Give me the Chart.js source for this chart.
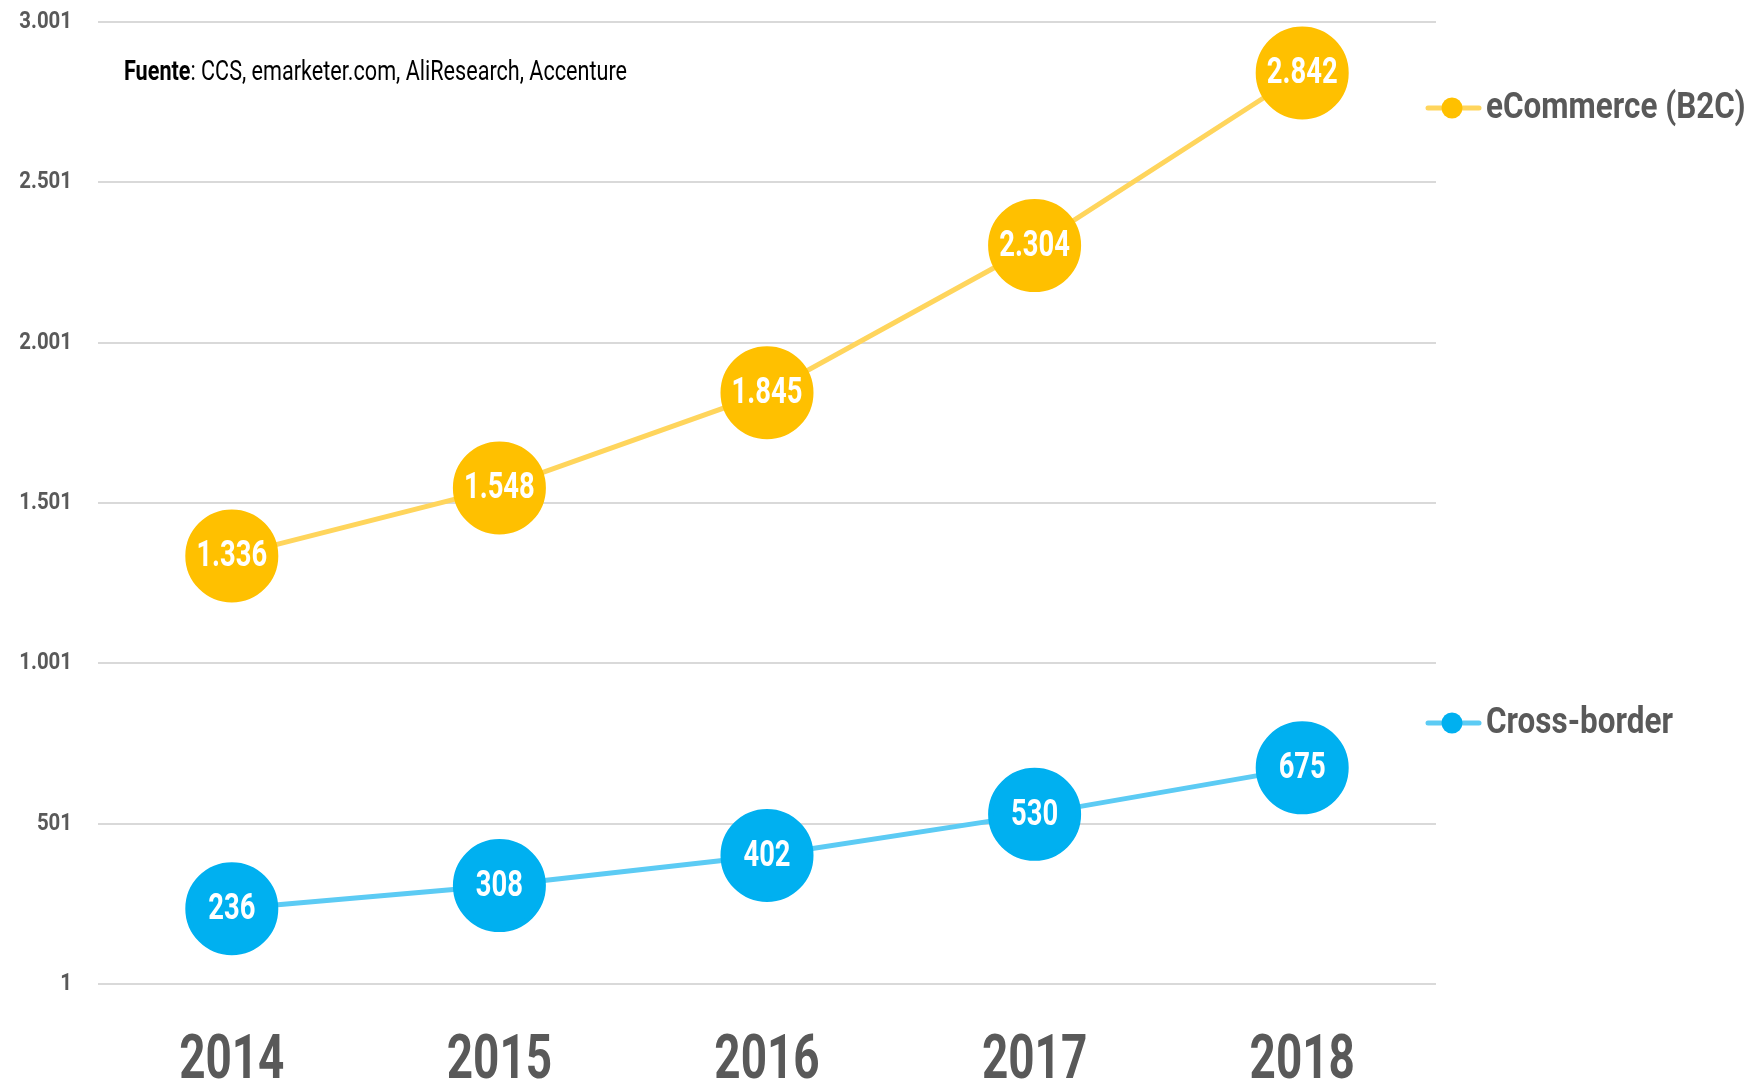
<!DOCTYPE html>
<html lang="es">
<head>
  <meta charset="UTF-8" />
  <title>eCommerce vs Cross-border</title>
  <script src="https://cdn.jsdelivr.net/npm/chart.js"></script>
  <style>
    html, body { margin: 0; padding: 0; background: #fff; }
    #wrap { width: 1755px; height: 1085px; }
  </style>
</head>
<body>
  <div id="wrap"><canvas id="chart" width="1755" height="1085"></canvas></div>

  <script>
    const years = ['2014', '2015', '2016', '2017', '2018'];
    const ecommerce = [1336, 1548, 1845, 2304, 2842];
    const crossBorder = [236, 308, 402, 530, 675];
    const yTicks = [1, 501, 1001, 1501, 2001, 2501, 3001];
    const seriesNames = ['eCommerce (B2C)', 'Cross-border'];
    const sourceLabel = 'Fuente';
    const sourceText = ': CCS, emarketer.com, AliResearch, Accenture';

    const FONT = "Roboto, 'DejaVu Sans', sans-serif";
    const GREY = '#595959';
    const fmt = v => v.toLocaleString('de-DE');

    // the original uses a narrow display face, so squeeze the text sideways
    function narrowText(ctx, text, x, y, align, sx) {
      ctx.save();
      ctx.translate(x, y);
      ctx.scale(sx, 1);
      ctx.textAlign = align;
      ctx.textBaseline = 'middle';
      ctx.fillText(text, 0, 0);
      ctx.restore();
    }

    // white numbers inside the big dots
    const valueLabels = {
      id: 'valueLabels',
      afterDatasetsDraw(chart) {
        const ctx = chart.ctx;
        ctx.save();
        ctx.fillStyle = '#fff';
        ctx.font = 'bold 37px ' + FONT;
        chart.data.datasets.forEach((ds, i) => {
          chart.getDatasetMeta(i).data.forEach((pt, j) => {
            narrowText(ctx, fmt(ds.data[j]), pt.x, pt.y + 1, 'center', 0.74);
          });
        });
        ctx.restore();
      }
    };

    // axis labels, source note and the legend on the right
    const extras = {
      id: 'extras',
      afterDraw(chart) {
        const ctx = chart.ctx;
        const xs = chart.scales.x, ys = chart.scales.y;
        ctx.save();

        ctx.fillStyle = GREY;
        ctx.font = 'bold 24px ' + FONT;
        ys.ticks.forEach(t => {
          narrowText(ctx, fmt(t.value), 72, ys.getPixelForValue(t.value), 'right', 0.85);
        });
        ctx.font = 'bold 62px ' + FONT;
        years.forEach((yr, i) => {
          narrowText(ctx, yr, xs.getPixelForTick(i), 1062, 'center', 0.74);
        });

        // source line, fitted to the width it has in the original
        ctx.fillStyle = '#000';
        ctx.font = 'bold 28px ' + FONT;
        const w1 = ctx.measureText(sourceLabel).width;
        ctx.font = '28px ' + FONT;
        const w2 = ctx.measureText(sourceText).width;
        const sx = 503 / (w1 + w2);
        ctx.font = 'bold 28px ' + FONT;
        narrowText(ctx, sourceLabel, 124, 73, 'left', sx);
        ctx.font = '28px ' + FONT;
        narrowText(ctx, sourceText, 124 + w1 * sx, 73, 'left', sx);

        const legendY = [108, 723];
        chart.data.datasets.forEach((ds, i) => {
          const y = legendY[i];
          ctx.strokeStyle = ds.borderColor;
          ctx.lineWidth = 5;
          ctx.lineCap = 'round';
          ctx.beginPath();
          ctx.moveTo(1428, y);
          ctx.lineTo(1479, y);
          ctx.stroke();
          ctx.fillStyle = ds.pointBackgroundColor;
          ctx.beginPath();
          ctx.arc(1452, y, 10.5, 0, Math.PI * 2);
          ctx.fill();
          ctx.fillStyle = GREY;
          ctx.font = 'bold 37px ' + FONT;
          narrowText(ctx, seriesNames[i], 1486, y + 1, 'left', 0.85);
        });
        ctx.restore();
      }
    };

    new Chart(document.getElementById('chart'), {
      type: 'line',
      data: {
        labels: years,
        datasets: [
          {
            label: seriesNames[0],
            data: ecommerce,
            borderColor: '#FFD55C',
            borderWidth: 5,
            pointBackgroundColor: '#FFC000',
            pointBorderColor: '#FFC000',
            pointRadius: 44,
            pointHoverRadius: 44
          },
          {
            label: seriesNames[1],
            data: crossBorder,
            borderColor: '#5CCBF4',
            borderWidth: 5,
            pointBackgroundColor: '#00B0F0',
            pointBorderColor: '#00B0F0',
            pointRadius: 44,
            pointHoverRadius: 44
          }
        ]
      },
      options: {
        responsive: false,
        animation: false,
        layout: { autoPadding: false, padding: { top: 22, right: 319, left: 0, bottom: 0 } },
        plugins: {
          legend: { display: false },
          tooltip: { enabled: false }
        },
        scales: {
          x: {
            offset: true,
            grid: { display: false },
            border: { display: false },
            ticks: { display: false },
            afterFit(scale) { scale.height = 101; }
          },
          y: {
            min: 1,
            max: 3001,
            border: { display: false },
            grid: { color: '#D9D9D9', lineWidth: 2, drawTicks: false },
            ticks: { display: false },
            afterBuildTicks(scale) { scale.ticks = yTicks.map(v => ({ value: v })); },
            afterFit(scale) { scale.width = 98; }
          }
        }
      },
      plugins: [valueLabels, extras]
    });
  </script>
</body>
</html>
